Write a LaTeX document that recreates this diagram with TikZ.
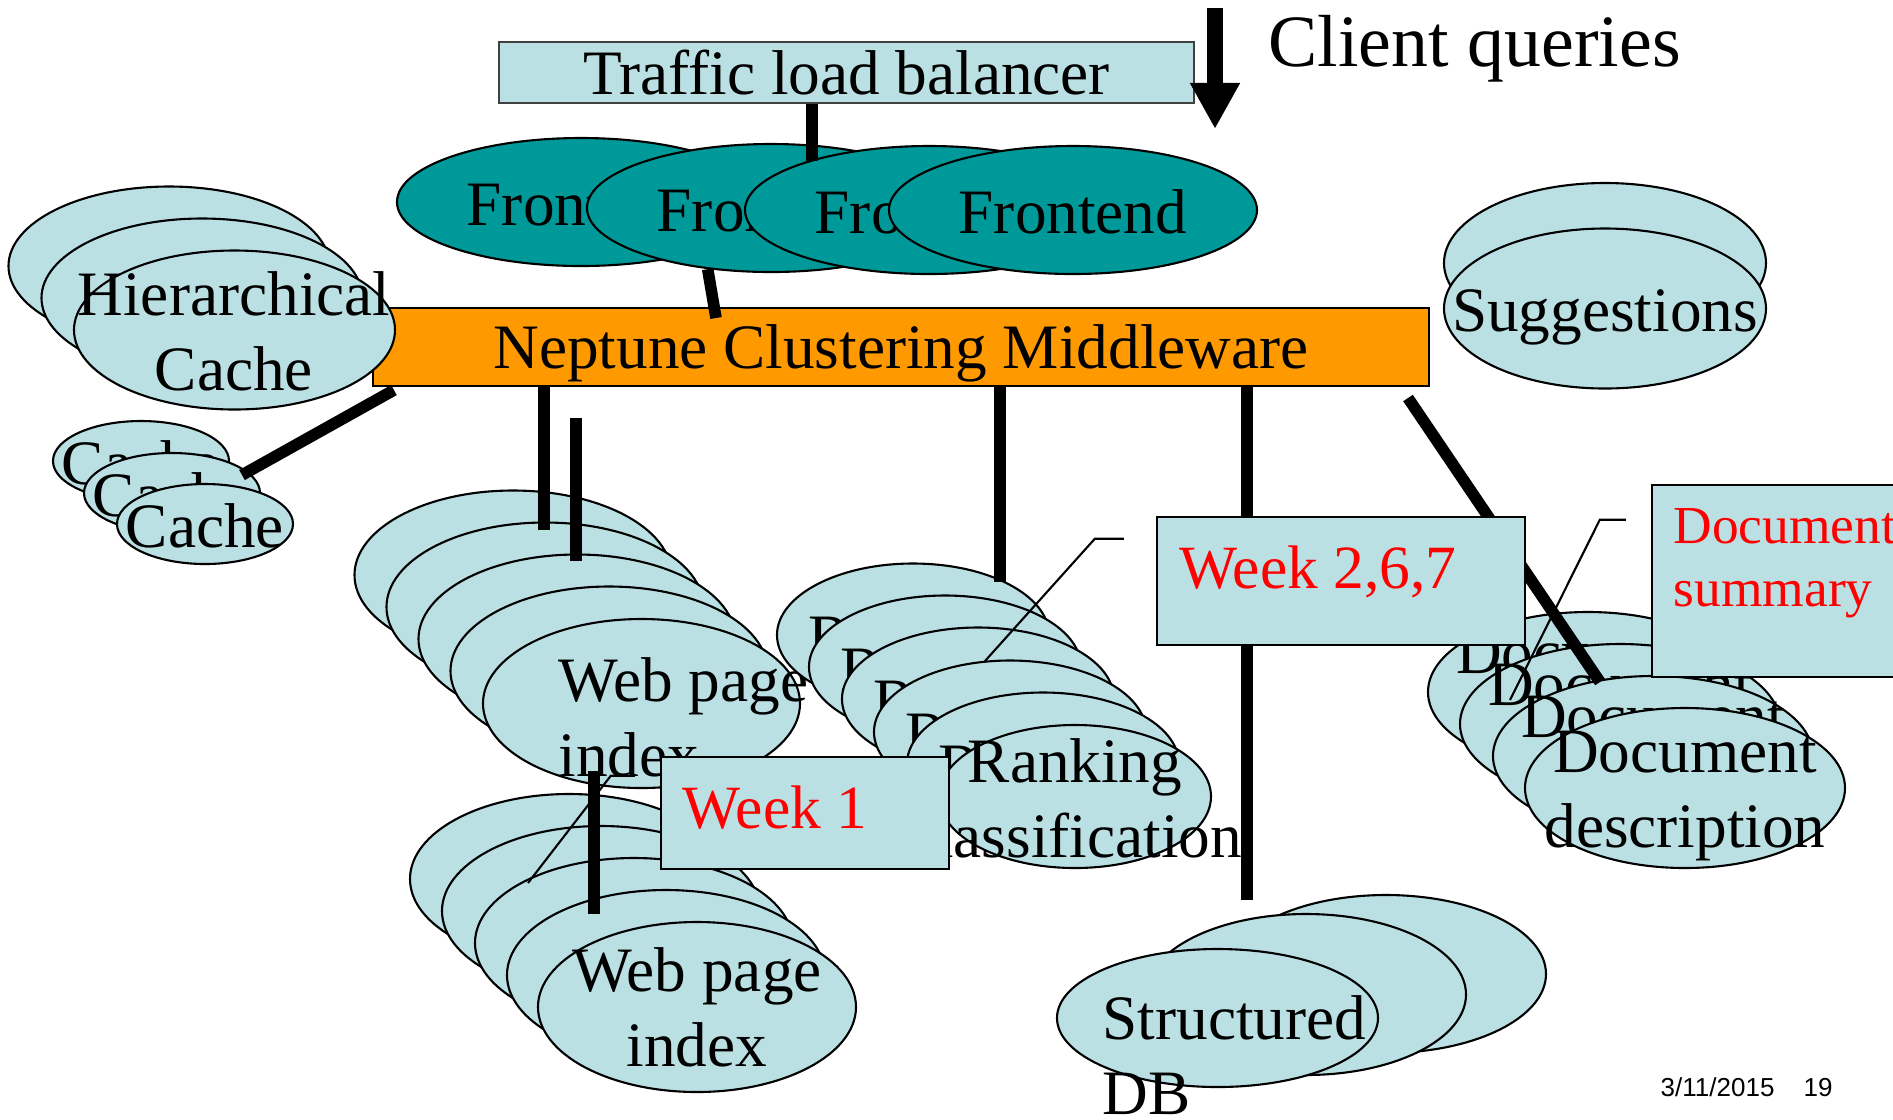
\documentclass[tikz,border=0pt]{standalone}
\usepackage{fontspec}
\setmainfont{Liberation Serif}
\newfontfamily\footerfont{Liberation Sans}
\usetikzlibrary{arrows.meta,calc,shapes.geometric}
\definecolor{pale}{HTML}{BBE0E3}
\definecolor{fecolor}{HTML}{009999}
\definecolor{mwcolor}{HTML}{FF9900}
\definecolor{wkred}{HTML}{FF0000}
\newcommand{\slidesize}{\fontsize{18}{21.4}\selectfont}
\newcommand{\wksize}{\fontsize{17.5}{21}\selectfont}
\newcommand{\sumsize}{\fontsize{15.2}{18}\selectfont}

\begin{document}
\begin{tikzpicture}[
    >={Triangle[width=13.3pt,length=13.1pt]},
    box/.style={draw, inner sep=0pt, font=\slidesize, line width=0.6pt},
    blob/.style={ellipse, draw, fill=pale, line width=0.6pt, inner sep=0pt},
    fe/.style={blob, fill=fecolor, minimum width=3.68cm, minimum height=1.28cm},
    txt/.style={font=\slidesize, inner sep=0pt, align=center},
    note/.style={draw, fill=pale, line width=0.7pt, inner sep=0pt},
    wk/.style={font=\wksize, text=wkred, inner sep=0pt},
    link/.style={line width=3.3pt},
    lead/.style={line width=0.6pt},
  ]
  \useasboundingbox (0,0) rectangle (18.93,-11.19);
  \clip (0,0) rectangle (18.93,-11.19);

  % balancer, frontends, middleware
  \node[box, draw=black!75, fill=pale, minimum width=6.95cm, minimum height=0.61cm] (lb) at (8.465,-0.725) {Traffic load balancer};
  \foreach \i/\x/\y in {1/5.81/2.02, 2/7.71/2.08, 3/9.29/2.10, 4/10.73/2.10} {
    \node[fe] (fe\i) at (\x,-\y) {};
    \node[txt] (fe\i-t) at (\x,-\y-0.02) {Frontend};
  }
  \node[box, fill=mwcolor, minimum width=10.56cm, minimum height=0.78cm, text depth=0pt] (mw) at (9.01,-3.47) {Neptune Clustering Middleware};

  % caches
  \foreach \i/\x/\y in {1/1.69/2.66, 2/2.02/2.98, 3/2.345/3.30}
    \node[blob, minimum width=3.21cm, minimum height=1.59cm] (hc\i) at (\x,-\y) {};
  \node[txt] (hc-t) at (2.34,-3.31) {Hierarchical\\Cache};
  \foreach \i/\x/\y in {1/1.41/4.61, 2/1.72/4.93, 3/2.05/5.24} {
    \node[blob, minimum width=1.76cm, minimum height=0.8cm] (ca\i) at (\x,-\y) {};
    \node[txt] (ca\i-t) at (\x,-\y-0.015) {Cache};
  }

  % suggestions
  \node[blob, minimum width=3.22cm, minimum height=1.6cm] (sg1) at (16.05,-2.63) {};
  \node[blob, minimum width=3.22cm, minimum height=1.6cm] (sg2) at (16.05,-3.085) {};
  \node[txt] (sg-t) at (16.05,-3.17) {Suggestions};

  % web page indexes
  \foreach \i/\x/\y in {1/5.13/5.75, 2/5.45/6.07, 3/5.77/6.39, 4/6.09/6.71, 5/6.415/7.035}
    \node[blob, minimum width=3.17cm, minimum height=1.69cm] (wa\i) at (\x,-\y) {};
  \node[txt, align=left, anchor=north west] (wa-t) at (5.58,-6.57) {Web page\\index};
  \foreach \i/\x/\y in {1/5.69/8.79, 2/6.01/9.11, 3/6.34/9.43, 4/6.66/9.75, 5/6.97/10.07}
    \node[blob, minimum width=3.18cm, minimum height=1.7cm] (wb\i) at (\x,-\y) {};
  \node[txt] (wb-t) at (6.97,-10.075) {Web page\\index};

  % ranking
  \foreach \i/\x/\y in {1/9.13/6.35, 2/9.45/6.67, 3/9.78/6.99, 4/10.10/7.32, 5/10.43/7.64} {
    \node[blob, minimum width=2.72cm, minimum height=1.43cm] (rk\i) at (\x,-\y) {};
    \node[txt, anchor=base west] (rk\i-t) at (\x-1.05,-\y-0.23) {Ranking};
  }
  \node[blob, minimum width=2.72cm, minimum height=1.43cm] (rk6) at (10.75,-7.965) {};
  \node[txt] (rk6-t) at (10.75,-7.98) {Ranking\\classification};

  % structured db
  \node[blob, minimum width=3.2cm, minimum height=1.58cm] (db1) at (13.86,-9.74) {};
  \node[blob, minimum width=3.2cm, minimum height=1.61cm] (db2) at (13.06,-9.945) {};
  \node[blob, minimum width=3.21cm, minimum height=1.38cm] (db3) at (12.175,-10.18) {};
  \node[txt, align=left, anchor=north west] (db-t) at (11.02,-9.95) {Structured\\DB};

  % documents
  \foreach \i/\x/\y in {1/15.88/6.92, 2/16.20/7.24, 3/16.53/7.56} {
    \node[blob, minimum width=3.2cm, minimum height=1.6cm] (dc\i) at (\x,-\y) {};
    \node[txt] (dc\i-t) at (\x,-\y+0.39) {Document};
  }
  \node[blob, minimum width=3.2cm, minimum height=1.6cm] (dc4) at (16.85,-7.88) {};
  \node[txt] (dc4-t) at (16.85,-7.96) {Document\\description};

  % thick links
  \coordinate (lb-fe) at (8.12,-1.61);
  \coordinate (fe-mw) at (7.16,-3.18);
  \coordinate (ca-end) at (2.42,-4.75);
  \coordinate (wa-a) at (5.44,-5.30);
  \coordinate (wa-b0) at (5.76,-4.18);
  \coordinate (wa-b) at (5.76,-5.61);
  \coordinate (wa-c0) at (5.94,-7.71);
  \coordinate (wa-c) at (5.94,-9.14);
  \coordinate (rk-a) at (10.00,-5.82);
  \coordinate (db-a) at (12.47,-9.00);
  \coordinate (dc-a0) at (14.08,-3.98);
  \coordinate (dc-a) at (16.00,-6.82);
  \draw[link] (lb.south -| lb-fe) -- (lb-fe);
  \draw[link] (fe2.224) -- (fe-mw);
  \draw[link] ($(mw.south west)+(0.22,-0.03)$) -- (ca-end);
  \draw[link] (mw.south -| wa-a) -- (wa-a);
  \draw[link] (wa-b0) -- (wa-b);
  \draw[link] (wa-c0) -- (wa-c);
  \draw[link] (mw.south -| rk-a) -- (rk-a);
  \draw[link] (mw.south -| db-a) -- (db-a);
  \draw[link] (dc-a0) -- (dc-a);

  % week notes
  \node[note, minimum width=2.88cm, minimum height=1.12cm] (wk1) at (8.05,-8.13) {};
  \node[wk, anchor=base west] (wk1-t) at (6.82,-8.28) {Week 1};
  \node[note, minimum width=3.68cm, minimum height=1.28cm] (wk2) at (13.41,-5.81) {};
  \node[wk, anchor=base west] (wk2-t) at (11.79,-5.88) {Week 2,6,7};
  \node[note, minimum width=3.0cm, minimum height=1.92cm] (sum) at (18.02,-5.81) {};
  \node[wk, font=\sumsize, align=left, anchor=north west] (sum-t) at (16.73,-5.08) {Document\\summary};
  \coordinate (wk1-e) at (5.28,-8.83);
  \coordinate (wk2-e) at (9.85,-6.61);
  \coordinate (sum-e) at (15.10,-7.00);
  \draw[lead] ($(wk1.north west)+(-0.25,-0.20)$) -- ++(-0.24,0) -- (wk1-e);
  \draw[lead] ($(wk2.north west)+(-0.32,-0.23)$) -- ++(-0.29,0) -- (wk2-e);
  \draw[lead] ($(sum.north west)+(-0.25,-0.36)$) -- ++(-0.26,0) -- (sum-e);

  % client queries
  \coordinate (q-top) at (12.15,-0.08);
  \coordinate (q-tip) at (12.15,-1.29);
  \draw[->, line width=4.6pt] (q-top) -- (q-tip);
  \node[font=\fontsize{21}{25}\selectfont, anchor=base west, inner sep=0pt] (cq) at (12.68,-0.66) {Client queries};

  \node[font=\footerfont\fontsize{7.4}{9}\selectfont, anchor=base west, inner sep=0pt] (date) at (16.60,-10.96) {3/11/2015};
  \node[font=\footerfont\fontsize{7.4}{9}\selectfont, anchor=base west, inner sep=0pt] (page) at (18.03,-10.96) {19};
\end{tikzpicture}
\end{document}
